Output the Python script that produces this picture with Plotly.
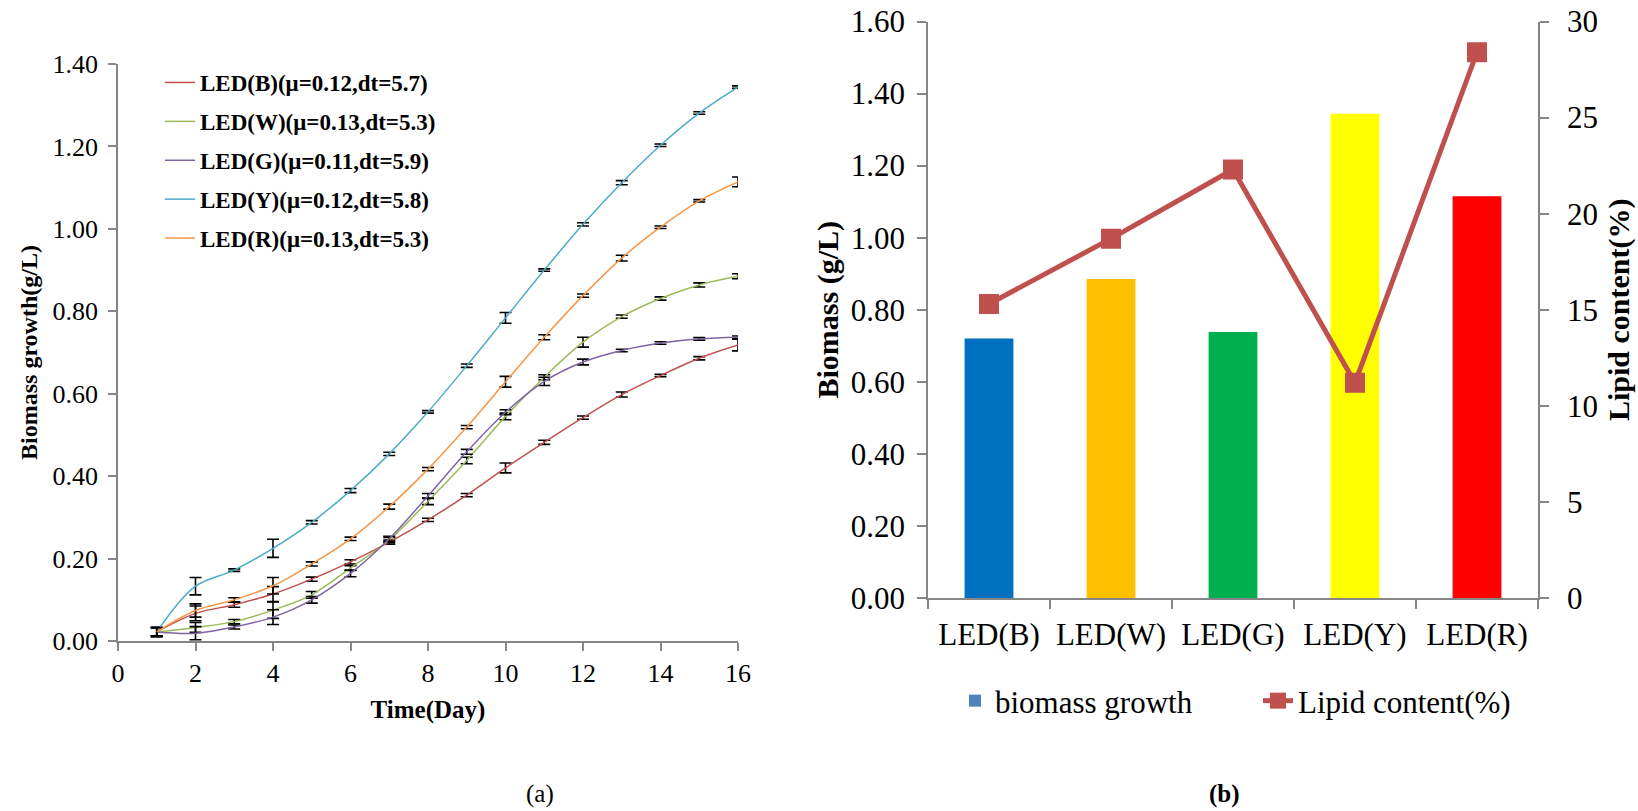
import plotly.graph_objects as go

# ---------------- data: panel (a) ----------------
days = list(range(1, 17))
series_names = [
    "LED(B)(μ=0.12,dt=5.7)",
    "LED(W)(μ=0.13,dt=5.3)",
    "LED(G)(μ=0.11,dt=5.9)",
    "LED(Y)(μ=0.12,dt=5.8)",
    "LED(R)(μ=0.13,dt=5.3)",
]
bio_B = [0.022, 0.067, 0.088, 0.114, 0.150, 0.192, 0.240, 0.294, 0.354, 0.420, 0.482, 0.542, 0.598, 0.644, 0.686, 0.718]
bio_W = [0.022, 0.033, 0.047, 0.075, 0.112, 0.177, 0.245, 0.339, 0.438, 0.545, 0.640, 0.725, 0.787, 0.831, 0.864, 0.885]
bio_G = [0.022, 0.019, 0.034, 0.058, 0.100, 0.164, 0.248, 0.352, 0.459, 0.555, 0.630, 0.677, 0.705, 0.723, 0.733, 0.737]
bio_Y = [0.022, 0.133, 0.172, 0.225, 0.288, 0.365, 0.454, 0.556, 0.668, 0.784, 0.900, 1.011, 1.112, 1.203, 1.281, 1.344]
bio_R = [0.022, 0.074, 0.100, 0.134, 0.187, 0.248, 0.326, 0.417, 0.519, 0.629, 0.737, 0.838, 0.929, 1.004, 1.068, 1.114]

err_B = [0.010, 0.018, 0.006, 0.018, 0.005, 0.005, 0.005, 0.004, 0.004, 0.012, 0.005, 0.004, 0.006, 0.003, 0.004, 0.014]
err_W = [0.010, 0.012, 0.005, 0.020, 0.008, 0.006, 0.006, 0.008, 0.008, 0.008, 0.006, 0.012, 0.004, 0.004, 0.005, 0.006]
err_G = [0.012, 0.016, 0.005, 0.018, 0.008, 0.008, 0.006, 0.006, 0.006, 0.006, 0.010, 0.007, 0.003, 0.003, 0.003, 0.003]
err_Y = [0.010, 0.021, 0.003, 0.022, 0.004, 0.005, 0.004, 0.003, 0.004, 0.013, 0.003, 0.004, 0.005, 0.003, 0.003, 0.003]
err_R = [0.010, 0.016, 0.005, 0.020, 0.005, 0.004, 0.006, 0.004, 0.004, 0.013, 0.006, 0.004, 0.007, 0.003, 0.003, 0.012]

line_colors = ["#C0504D", "#9BBB59", "#8064A2", "#4BACC6", "#F79646"]

# ---------------- data: panel (b) ----------------
categories = ["LED(B)", "LED(W)", "LED(G)", "LED(Y)", "LED(R)"]
biomass = [0.720, 0.885, 0.738, 1.344, 1.115]
lipid = [15.3, 18.7, 22.3, 11.2, 28.4]
bar_colors = ["#0070C0", "#FFC000", "#00B050", "#FFFF00", "#FF0000"]

# page body margin is removed by a post script, so the figure fills the window
OFF = 0
WF, HF = 1638, 811
FONT = "Liberation Serif"
AX = "#868686"


def px_x(p):  # window pixel -> paper fraction
    return (p - OFF) / WF


def px_y(p):
    return 1 - (p - OFF) / HF


fig = go.Figure()

all_vals = [bio_B, bio_W, bio_G, bio_Y, bio_R]
all_errs = [err_B, err_W, err_G, err_Y, err_R]
for i, (name, vals, errs, col) in enumerate(zip(series_names, all_vals, all_errs, line_colors)):
    fig.add_trace(go.Scatter(
        x=days, y=vals, name="<b>" + name + "</b>", mode="lines",
        line=dict(color=col, width=1.5, shape="spline", smoothing=1.0),
        error_y=dict(type="data", array=errs, visible=True, color="black",
                     thickness=1.6, width=6),
        xaxis="x", yaxis="y", legend="legend", legendgroup="g%d" % i,
    ))

# panel (b)
fig.add_trace(go.Bar(
    x=categories, y=biomass, marker=dict(color=bar_colors, line=dict(width=0)),
    name="biomass growth", showlegend=False, xaxis="x2", yaxis="y2",
))
fig.add_trace(go.Bar(
    x=[None], y=[None], marker=dict(color="#4F81BD"), name="biomass growth",
    xaxis="x2", yaxis="y2", legend="legend2", showlegend=True,
))
fig.add_trace(go.Scatter(
    x=categories, y=lipid, name="Lipid content(%)", mode="lines+markers",
    line=dict(color="#C0504D", width=5),
    marker=dict(symbol="square", size=20, color="#C0504D"),
    xaxis="x2", yaxis="y3", legend="legend2",
))

tick_left = dict(family=FONT, size=26, color="black")
tick_right = dict(family=FONT, size=31, color="black")

common = dict(showline=True, linecolor=AX, linewidth=1.5, ticks="outside",
              tickcolor=AX, tickwidth=1.5, showgrid=False, zeroline=False,
              automargin=False, ticklabeloverflow="allow")

fig.update_layout(
    template="none",
    width=WF, height=HF,
    margin=dict(l=0, r=0, t=0, b=0, autoexpand=False),
    paper_bgcolor="white", plot_bgcolor="white",
    font=dict(family=FONT, color="black"),
    bargap=0.6,
    xaxis=dict(
        domain=[px_x(118), px_x(738)], range=[0, 16], dtick=2, tick0=0,
        ticklen=8, tickfont=tick_left,
        title=dict(text="<b>Time(Day)</b>", font=dict(family=FONT, size=25), standoff=14),
        anchor="y", **common,
    ),
    yaxis=dict(
        domain=[px_y(641), px_y(64)], range=[0, 1.4], dtick=0.2, tickformat=".2f",
        ticklen=8, tickfont=tick_left, ticklabelstandoff=5,
        title=dict(text="<b>Biomass growth(g/L)</b>", font=dict(family=FONT, size=24), standoff=8),
        anchor="x", **common,
    ),
    xaxis2=dict(
        domain=[px_x(928), px_x(1538)], type="category",
        ticklen=9, tickson="boundaries", tickfont=tick_right, ticklabelstandoff=8,
        anchor="y2", **common,
    ),
    yaxis2=dict(
        domain=[px_y(598), px_y(21.5)], range=[0, 1.6], dtick=0.2, tickformat=".2f",
        ticklen=9, tickfont=tick_right, ticklabelstandoff=6,
        title=dict(text="<b>Biomass (g/L)</b>", font=dict(family=FONT, size=30), standoff=3),
        anchor="x2", **common,
    ),
    yaxis3=dict(
        domain=[px_y(598), px_y(21.5)], range=[0, 30], dtick=5,
        overlaying="y2", side="right", anchor="x2",
        ticklen=9, tickfont=tick_right, ticklabelstandoff=12,
        title=dict(text="<b>Lipid content(%)</b>", font=dict(family=FONT, size=30), standoff=11),
        **common,
    ),
    legend=dict(
        x=px_x(160), y=px_y(61), xanchor="left", yanchor="top",
        bgcolor="rgba(0,0,0,0)", borderwidth=0,
        font=dict(family=FONT, size=23, color="black"),
        tracegroupgap=6,
    ),
    legend2=dict(
        x=px_x(955), y=px_y(674), xanchor="left", yanchor="top",
        orientation="h", bgcolor="rgba(0,0,0,0)", borderwidth=0,
        font=dict(family=FONT, size=31, color="black"),
        entrywidth=258, entrywidthmode="pixels",
    ),
    annotations=[
        dict(text="(a)", x=px_x(540), y=px_y(794), xref="paper", yref="paper",
             xanchor="center", yanchor="middle",
             showarrow=False, font=dict(family=FONT, size=25, color="black")),
        dict(text="<b>(b)</b>", x=px_x(1224), y=px_y(794), xref="paper", yref="paper",
             xanchor="center", yanchor="middle",
             showarrow=False, font=dict(family=FONT, size=25, color="black")),
    ],
)

fig.write_html(
    "out.html",
    config={"displayModeBar": False},
    post_script="document.body.style.margin='0';document.body.style.overflow='hidden';",
)
